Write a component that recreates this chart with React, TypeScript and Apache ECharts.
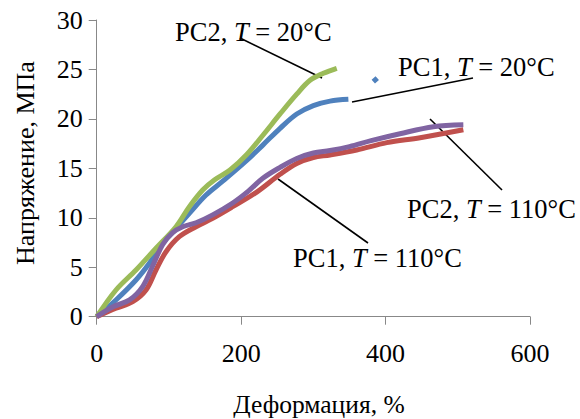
import React, { useEffect, useRef } from "react";
import * as echarts from "echarts";

// Strain (%), stress (MPa) pairs
const pc1T20: (number | null)[][] = [
  [0, 0], [26.7, 1.69], [54.4, 3.71], [72.9, 5.4], [91.4, 7.42], [109.8, 8.94],
  [128.3, 10.45], [151.4, 12.3], [174.5, 13.7], [207.8, 15.8], [230.7, 17.4],
  [253.9, 19.05], [277, 20.5], [300, 21.35], [323.1, 21.8], [348.5, 21.98],
  [366, null], [383, 23.76], [388.5, 24.13],
];
const pc2T20: number[][] = [
  [0, 0], [26.7, 2.7], [54.4, 4.72], [82.1, 6.92], [109.8, 9.1], [128.3, 11.12],
  [146.8, 12.81], [162.9, 13.82], [184.6, 14.83], [207.8, 16.4], [230.7, 18.4],
  [253.9, 20.5], [277, 22.5], [295.4, 23.9], [313.8, 24.61], [332.4, 25.12],
];
const pc1T110: number[][] = [
  [0, 0], [26.7, 0.85], [49.9, 1.52], [68.3, 2.7], [82.1, 4.72], [96, 6.57],
  [114.4, 8.09], [137.5, 9.1], [160.6, 9.95], [188.3, 11.12], [221.6, 12.6],
  [253.9, 14.4], [277, 15.5], [300, 16.1], [323.1, 16.35], [360, 16.85],
  [401.7, 17.6], [447.8, 18.1], [507.7, 18.9],
];
const pc2T110: number[][] = [
  [0, 0], [22.6, 1.0], [45.6, 1.7], [64.1, 3.1], [77.9, 5.2], [91.4, 7.3],
  [105.3, 8.5], [119.1, 9.1], [137.5, 9.5], [160.6, 10.3], [188.3, 11.5],
  [210, 12.7], [230, 14.0], [253.9, 15.1], [277, 16.0], [300, 16.55],
  [323.1, 16.8], [350, 17.2], [380, 17.8], [420, 18.5], [466.2, 19.2], [507.7, 19.4],
];

const xTitle = "Деформация, %";
const yTitle = "Напряжение, МПа";
const seriesNames = ["PC1, T = 20°C", "PC2, T = 20°C", "PC1, T = 110°C", "PC2, T = 110°C"];

const FONT = "Liberation Serif";
const AXIS_FS = 26;
const NOTE_FS = 26.5;

function label(prefix: string, suffix: string, x: number, y: number) {
  return {
    type: "text",
    x,
    y,
    style: {
      text: `{n|${prefix}}{i|T}{n| = ${suffix}}`,
      fontSize: NOTE_FS,
      fontFamily: FONT,
      fill: "#000",
      textAlign: "left",
      textVerticalAlign: "middle",
      rich: {
        n: { fontSize: NOTE_FS, fontFamily: FONT, fill: "#000" },
        i: { fontStyle: "italic", fontSize: NOTE_FS, fontFamily: FONT, fill: "#000" },
      },
    },
  };
}

function leader(x1: number, y1: number, x2: number, y2: number) {
  return {
    type: "line",
    shape: { x1, y1, x2, y2 },
    style: { stroke: "#000", lineWidth: 1.6 },
  };
}

export default function App() {
  const ref = useRef<HTMLDivElement>(null);
  useEffect(() => {
    if (!ref.current) return;
    const chart = echarts.init(ref.current, undefined, { renderer: "svg" });
    const mk = (name: string, data: any[], color: string) => ({
      name,
      type: "line",
      data,
      smooth: 0.35,
      showSymbol: false,
      connectNulls: false,
      lineStyle: { color, width: 5 },
      itemStyle: { color },
    });
    chart.setOption({
      animation: false,
      backgroundColor: "#fff",
      textStyle: { fontFamily: FONT },
      grid: { left: 96.7, right: 50, top: 20, bottom: 102.3, containLabel: false },
      xAxis: {
        type: "value",
        min: 0,
        max: 600,
        interval: 200,
        axisLine: { lineStyle: { color: "#888", width: 1 } },
        axisTick: { show: true, length: 8, inside: false, lineStyle: { color: "#888" } },
        splitLine: { show: false },
        axisLabel: { color: "#000", fontSize: AXIS_FS, fontFamily: FONT, margin: 24 },
      },
      yAxis: {
        type: "value",
        min: 0,
        max: 30,
        interval: 5,
        axisLine: { show: true, lineStyle: { color: "#888", width: 1 } },
        axisTick: { show: true, length: 8, inside: false, lineStyle: { color: "#888" } },
        splitLine: { show: false },
        axisLabel: { color: "#000", fontSize: AXIS_FS, fontFamily: FONT, margin: 14 },
      },
      series: [
        mk(seriesNames[0], pc1T20, "#4F81BD"),
        mk(seriesNames[1], pc2T20, "#9BBB59"),
        mk(seriesNames[2], pc1T110, "#C0504D"),
        mk(seriesNames[3], pc2T110, "#8064A2"),
      ],
      graphic: [
        leader(240, 38, 322, 78),
        leader(352, 102, 473, 78),
        leader(430, 119, 502, 190),
        leader(278, 179, 368, 243),
        label("PC2, ", "20°C", 175, 31.5),
        label("PC1, ", "20°C", 398, 67),
        label("PC2, ", "110°C", 407, 208.5),
        label("PC1, ", "110°C", 293, 258),
        {
          type: "text",
          x: 319,
          y: 404,
          style: { text: xTitle, fontSize: 25.5, fontFamily: FONT, fill: "#000", textAlign: "center", textVerticalAlign: "middle" },
        },
        {
          type: "text",
          x: 25,
          y: 163,
          rotation: Math.PI / 2,
          style: { text: yTitle, fontSize: AXIS_FS, fontFamily: FONT, fill: "#000", textAlign: "center", textVerticalAlign: "middle" },
        },
      ],
    });
    return () => chart.dispose();
  }, []);
  return (
    <div
      ref={ref}
      style={{ position: "fixed", left: 0, top: 0, width: 580, height: 419 }}
    />
  );
}
